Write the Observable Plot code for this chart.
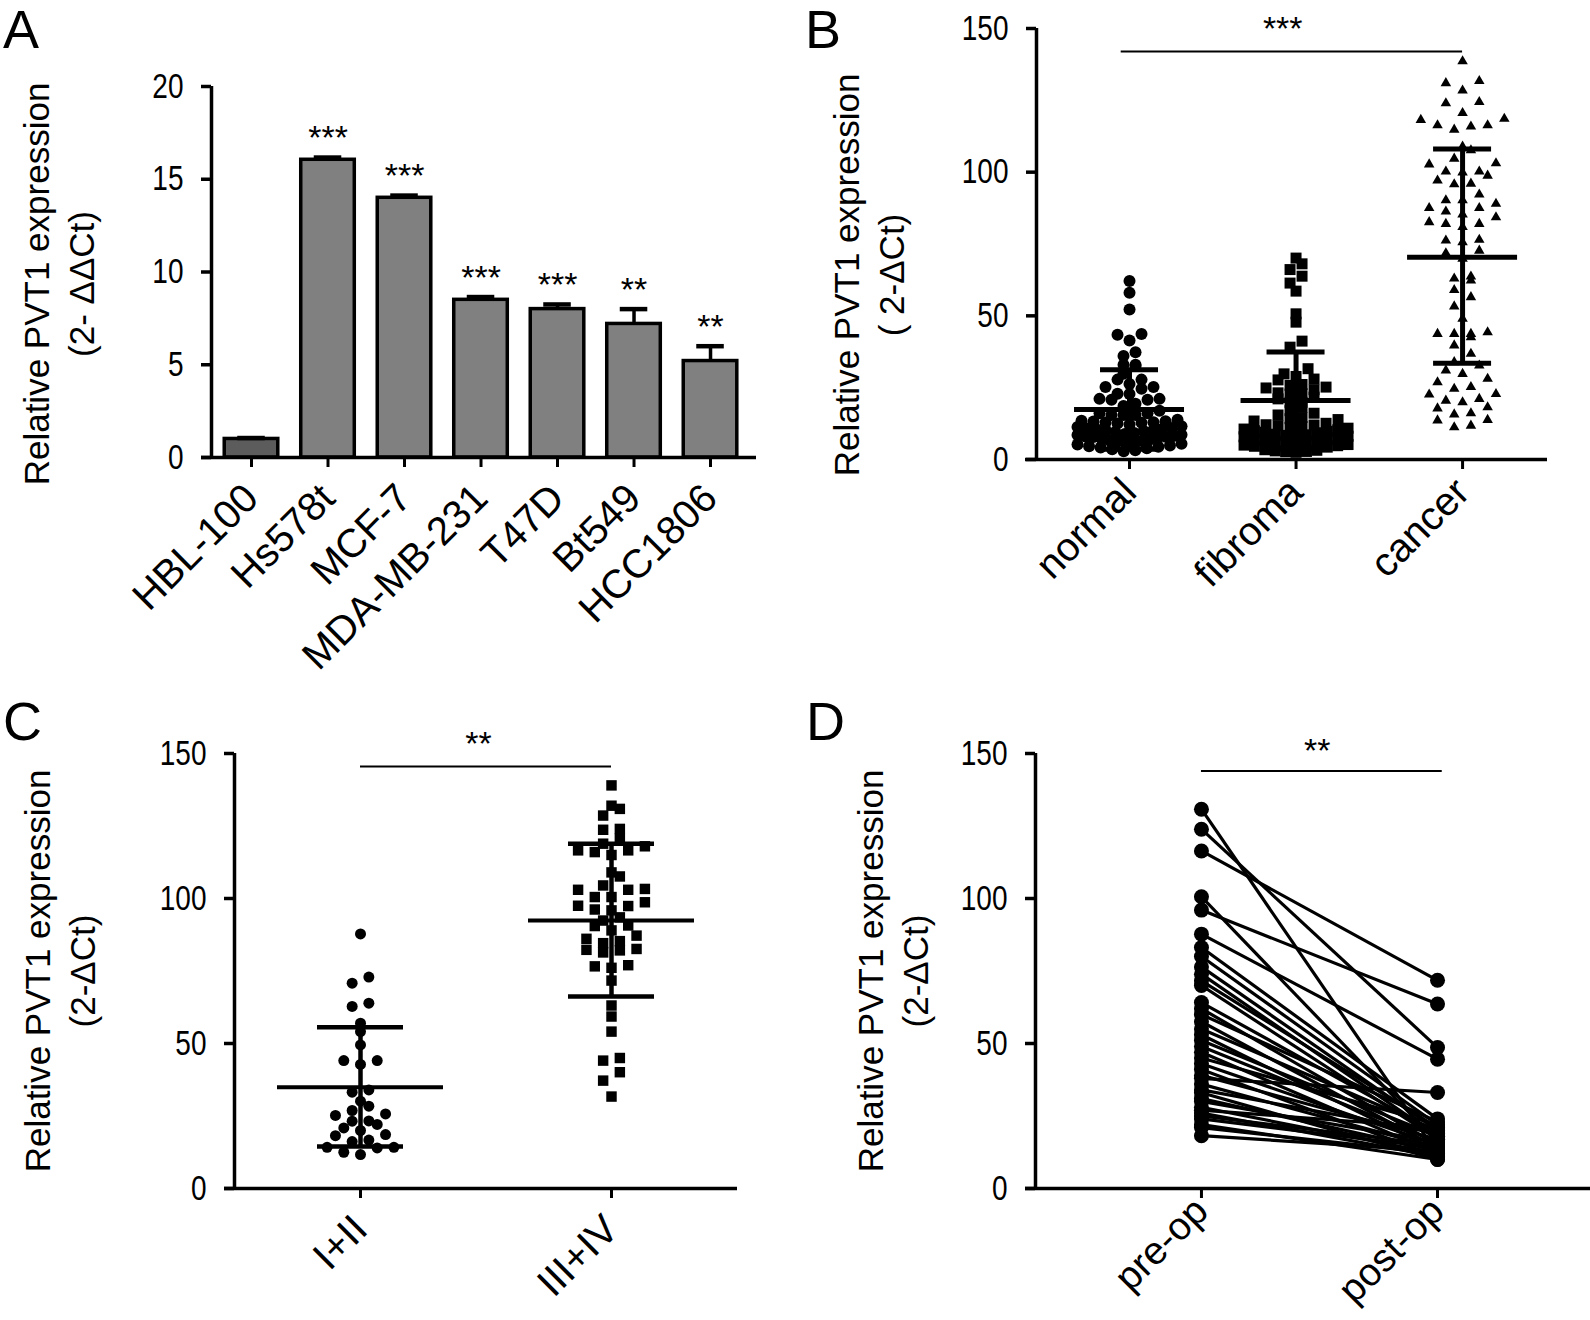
<!DOCTYPE html>
<html><head><meta charset="utf-8">
<script src="https://cdn.jsdelivr.net/npm/d3@7"></script>
<script src="https://cdn.jsdelivr.net/npm/@observablehq/plot@0.6"></script>
<style>
body{margin:0;background:#fff;}
#fig{position:relative;width:1590px;height:1320px;overflow:hidden;font-family:"Liberation Sans",Arial,sans-serif;background:#fff;}
.panel{position:absolute;}
.letter{position:absolute;font-size:54px;line-height:1.1;color:#000;font-family:"Liberation Sans",Arial,sans-serif;}
</style></head><body><div id="fig"></div>
<script>
// ---------- Panel A: cell lines ----------
const cellLines = ["HBL-100","Hs578t","MCF-7","MDA-MB-231","T47D","Bt549","HCC1806"];
const cellMeans = [1.0, 16.05, 14.0, 8.5, 8.0, 7.2, 5.2];
const cellErrors = [0.05, 0.12, 0.12, 0.15, 0.25, 0.8, 0.8];
const cellStars = ["", "***", "***", "***", "***", "**", "**"];
const cellTicks = [0, 5, 10, 15, 20];

// ---------- Panel B: tissues ----------
const tissueGroups = ["normal", "fibroma", "cancer"];
const normalValues = [62.1,58.0,52.2,43.4,43.7,41.4,37.3,36.0,33.0,33.0,32.5,29.8,27.8,27.8,26.3,25.2,25.2,24.6,22.9,22.8,21.1,21.1,20.8,20.8,18.6,19.4,16.1,15.5,15.5,15.5,16.1,17.0,
  13.2,12.8,13.5,12.5,13.0,12.2,13.8,12.9,13.3,10.8,10.2,11.0,10.5,9.9,11.3,10.1,10.7,11.6,9.6,8.2,7.8,8.5,7.5,8.9,7.2,8.0,8.6,7.9,9.2,6.3,5.9,6.6,5.5,6.9,6.1,5.2,6.4,4.6,4.2,4.9,3.9,4.4,3.6,2.9,3.2];
const fibromaValues = [70.1,68.1,66.1,63.8,61.4,58.6,50.7,47.8,41.2,39.1,31.6,29.8,27.7,28.0,28.9,26.1,25.8,25.2,24.9,24.3,22.9,22.8,23.2,21.1,19.9,19.9,21.7,18.2,16.1,17.0,15.5,14.6,14.2,
  13.4,12.6,13.9,12.1,11.8,11.2,11.5,10.9,12.0,10.3,9.8,10.0,9.5,10.6,9.3,8.6,8.1,8.4,7.9,8.8,7.6,8.2,6.9,6.4,6.7,6.1,7.1,5.9,6.5,5.2,4.8,5.0,4.6,5.4,4.3,3.4,3.0,2.7,2.5,3.2,2.8];
const cancerValues = [138.6,131.0,131.7,128.4,124.4,124.0,120.6,118.6,116.3,115.9,114.8,116.3,118.2,108.9,107.6,104.7,102.7,103.1,100.2,100.2,98.8,99.9,96.0,95.8,97.1,92.2,90.2,89.0,90.2,87.5,86.3,87.5,85.3,84.3,82.0,82.6,80.9,82.0,76.5,75.6,76.2,72.7,69.9,71.8,63.0,62.3,63.7,59.0,56.5,53.3,49.0,43.7,43.7,43.7,44.3,42.6,39.7,36.8,32.7,31.0,33.9,29.8,28.1,26.9,24.6,25.2,22.6,22.8,20.5,21.1,18.2,17.8,19.9,15.7,16.1,13.6,13.8,11.2,11.8];
const tissueMean = [17.4, 20.5, 70.4];
const tissueSdLow = [3.6, 3.6, 33.5];
const tissueSdHigh = [31.2, 37.4, 108.1];
const tissueSig = [{from: 0, to: 2, y: 142, label: "***"}];

// ---------- Panel C: stages ----------
const stageGroups = ["I+II", "III+IV"];
const stageEarly = [87.8,72.9,70.8,63.9,62.8,57.0,54.1,49.5,44.1,44.1,42.8,34.0,33.2,30.1,28.4,26.9,25.7,25.2,23.2,23.3,22.1,20.9,20.0,18.6,18.2,16.2,16.7,14.2,14.2,14.0,12.5,11.7];
const stageLate = [139,130.9,132.0,128.6,124,123.7,120.6,118.9,118,116.6,116,116.6,115,109,107.6,103,103,104.5,100.5,100.5,97.4,95.9,96.2,98.7,92.4,90.5,89.0,90.7,85.3,86.1,82.6,82.1,82.3,84.6,76.6,76.1,77.0,71.7,63.1,59.3,54.1,44.1,45.0,40.1,37.2,31.7,103.3,97.5,93.5,87.2,81.4];
const stageMean = [34.9, 92.4];
const stageSdLow = [14.5, 66.2];
const stageSdHigh = [55.6, 118.9];
const stageSig = [{from: 0, to: 1, y: 145.5, label: "**"}];

// ---------- Panel D: paired pre/post ----------
const timepoints = ["pre-op", "post-op"];
const preOp  = [130.8,123.9,116.4,100.6,96.0,87.7,83.1,80,76.4,73.9,71.6,70,64.1,62,60,57.5,55,53,51,49,47,45,43,41,39,38,36,34,33,31,30,28,27,26,25,24,22,21,18.2];
const postOp = [12,48.6,71.8,16,63.6,44.6,24,22,20,18,21,17,19,15,23,14,20,13,18,16,12,22,15,11,17,33.1,14,19,10,13,16,12,21,11,15,14,10,12,13];
const pairedSig = [{from: 0, to: 1, y: 144, label: "**"}];

const scatterTicks = [0, 50, 100, 150];

// ---------- helpers ----------
const FONT = "'Liberation Sans', Arial, Helvetica, sans-serif";
const fig = document.getElementById("fig");

// GraphPad-like column scatter layout: rows of near-equal values spread around the group centre
function swarm(values, gi, pxPerUnit, pxPerStep, rowPx, spacingPx, maxHalfPx) {
  const sorted = values.slice().sort((a, b) => a - b);
  const rows = [];
  let cur = [];
  for (const v of sorted) {
    if (cur.length && (v - cur[0]) * pxPerUnit > rowPx) { rows.push(cur); cur = []; }
    cur.push(v);
  }
  if (cur.length) rows.push(cur);
  const out = [];
  for (const row of rows) {
    const n = row.length;
    let s = spacingPx;
    if (n > 1 && (n - 1) * s / 2 > maxHalfPx) s = 2 * maxHalfPx / (n - 1);
    const slots = [];
    for (let k = 0; k < n; k++) slots.push((k - (n - 1) / 2) * s);
    slots.sort((a, b) => Math.abs(a) - Math.abs(b) || a - b);
    row.forEach((v, k) => out.push({x: gi + slots[k] / pxPerStep, y: v}));
  }
  return out;
}

// narrow the numeric tick labels horizontally (reference uses a condensed face)
function condenseTicks(svg, sx) {
  svg.querySelectorAll('g[aria-label="y-axis tick label"] text').forEach(t => {
    const tr = t.getAttribute("transform");
    if (tr) t.setAttribute("transform", tr + ` scale(${sx},1)`);
    else {
      const x = +t.getAttribute("x") || 0, y = +t.getAttribute("y") || 0;
      t.setAttribute("transform", `translate(${x},${y}) scale(${sx},1) translate(${-x},${-y})`);
    }
  });
}

function place(svg, left, top) {
  condenseTicks(svg, 0.8);
  const wrap = document.createElement("div");
  wrap.className = "panel";
  wrap.style.left = left + "px";
  wrap.style.top = top + "px";
  wrap.appendChild(svg);
  fig.appendChild(wrap);
}
function letter(t, left, top) {
  const d = document.createElement("div");
  d.className = "letter"; d.textContent = t;
  d.style.left = left + "px"; d.style.top = top + "px";
  fig.appendChild(d);
}
const baseStyle = {fontFamily: FONT, color: "#000", background: "transparent", overflow: "visible"};
const TICK_FS = 35, CAT_FS = 40, TITLE_FS = 35, STAR_FS = 34;

// ---------- Panel A ----------
{
  const W = 795, H = 700, mL = 211, mT = 86, mB = 243, mR = 39;
  const xd = [-0.523, 6.601];
  const step = (W - mL - mR) / (xd[1] - xd[0]);
  const cells = cellLines.map((c, i) => ({i, name: c, mean: cellMeans[i], err: cellErrors[i], star: cellStars[i]}));
  const svg = Plot.plot({
    width: W, height: H, marginLeft: mL, marginTop: mT, marginBottom: mB, marginRight: mR,
    x: {domain: xd, label: null}, y: {domain: [0, 20], label: null},
    style: baseStyle,
    marks: [
      Plot.rectY(cells, {x1: d => d.i - 0.35, x2: d => d.i + 0.35, y1: 0, y2: "mean",
        fill: d => d.i === 0 ? "#5c5c5c" : "#808080", stroke: "#000", strokeWidth: 3.5}),
      Plot.ruleX(cells, {x: "i", y1: "mean", y2: d => d.mean + d.err, strokeWidth: 3.5}),
      Plot.ruleY(cells, {y: d => d.mean + d.err, x1: d => d.i - 0.18, x2: d => d.i + 0.18, strokeWidth: 4.5}),
      Plot.text(cells, {x: "i", y: d => d.mean + d.err, text: "star", dy: -19, fontSize: STAR_FS}),
      Plot.ruleY([0], {x1: xd[0] - 10 / step, x2: xd[1], strokeWidth: 3.5}),
      Plot.ruleX([xd[0]], {y1: 0, y2: 20, strokeWidth: 3.5}),
      Plot.axisY({ticks: cellTicks, tickSize: 10, tickPadding: 18, strokeWidth: 3.5, fontSize: TICK_FS, label: null}),
      Plot.axisX({ticks: d3.range(cellLines.length), tickFormat: i => cellLines[i], tickSize: 10, tickPadding: 24,
        strokeWidth: 3, tickRotate: -45, fontSize: CAT_FS, label: null}),
      Plot.text(["Relative PVT1 expression\n(2- \u0394\u0394Ct)"], {text: d => d, frameAnchor: "middle", rotate: -90,
        dx: -427, dy: 12, fontSize: TITLE_FS, lineHeight: 1.3})
    ]
  });
  place(svg, 0, 0);
}

// ---------- Panel B ----------
{
  const W = 795, H = 700, mL = 241, mT = 28, mB = 241, mR = 43;
  const xd = [-0.5586, 2.51], yd = [0, 150];
  const step = (W - mL - mR) / (xd[1] - xd[0]);
  const ky = (H - mT - mB) / (yd[1] - yd[0]);
  const nrm = swarm(normalValues, 0, ky, step, 8, 12, 52);
  const fib = swarm(fibromaValues, 1, ky, step, 8, 12, 52);
  const can = swarm(cancerValues, 2, ky, step, 11, 16.7, 45);
  const stats = tissueGroups.map((g, i) => ({i, mean: tissueMean[i], lo: tissueSdLow[i], hi: tissueSdHigh[i]}));
  const svg = Plot.plot({
    width: W, height: H, marginLeft: mL, marginTop: mT, marginBottom: mB, marginRight: mR,
    x: {domain: xd, label: null}, y: {domain: yd, label: null},
    style: baseStyle,
    marks: [
      Plot.dot(nrm, {x: "x", y: "y", r: 6, fill: "#000", symbol: "circle"}),
      Plot.dot(fib, {x: "x", y: "y", r: 6.2, fill: "#000", symbol: "square"}),
      Plot.dot(can, {x: "x", y: "y", r: 3.9, fill: "#000", symbol: "triangle"}),
      Plot.ruleY(stats, {y: "mean", x1: d => d.i - 55 / step, x2: d => d.i + 55 / step, strokeWidth: 5}),
      Plot.ruleX(stats, {x: "i", y1: "lo", y2: "hi", strokeWidth: 5}),
      Plot.ruleY(stats, {y: "hi", x1: d => d.i - 29 / step, x2: d => d.i + 29 / step, strokeWidth: 5}),
      Plot.ruleY(stats, {y: "lo", x1: d => d.i - 29 / step, x2: d => d.i + 29 / step, strokeWidth: 5}),
      Plot.ruleY(tissueSig, {y: "y", x1: d => d.from - 0.05, x2: d => d.to, strokeWidth: 2}),
      Plot.text(tissueSig, {x: d => (d.from + d.to) / 2 - 0.08, y: "y", text: "label", dy: -22, fontSize: STAR_FS}),
      Plot.ruleY([0], {x1: xd[0] - 11 / step, x2: xd[1], strokeWidth: 3.5}),
      Plot.ruleX([xd[0]], {y1: 0, y2: 150, strokeWidth: 3.5}),
      Plot.axisY({ticks: scatterTicks, tickSize: 10, tickPadding: 18, strokeWidth: 3.5, fontSize: TICK_FS, label: null}),
      Plot.axisX({ticks: d3.range(tissueGroups.length), tickFormat: i => tissueGroups[i], tickSize: 10, tickPadding: 16,
        strokeWidth: 3, tickRotate: -45, fontSize: CAT_FS, label: null}),
      Plot.text(["Relative PVT1 expression\n( 2-\u0394Ct)"], {text: d => d, frameAnchor: "middle", rotate: -90,
        dx: -425, dy: 31, fontSize: TITLE_FS, lineHeight: 1.3})
    ]
  });
  place(svg, 795, 0);
}

// ---------- Panel C ----------
{
  const W = 795, H = 660, mL = 234, mT = 93, mB = 132, mR = 58;
  const xd = [-0.502, 1.502], yd = [0, 150];
  const step = (W - mL - mR) / (xd[1] - xd[0]);
  const ky = (H - mT - mB) / (yd[1] - yd[0]);
  const early = swarm(stageEarly, 0, ky, step, 8, 16.7, 55);
  const late = swarm(stageLate, 1, ky, step, 9, 16.7, 58);
  const stats = stageGroups.map((g, i) => ({i, mean: stageMean[i], lo: stageSdLow[i], hi: stageSdHigh[i]}));
  const svg = Plot.plot({
    width: W, height: H, marginLeft: mL, marginTop: mT, marginBottom: mB, marginRight: mR,
    x: {domain: xd, label: null}, y: {domain: yd, label: null},
    style: baseStyle,
    marks: [
      Plot.dot(early, {x: "x", y: "y", r: 5.5, fill: "#000", symbol: "circle"}),
      Plot.dot(late, {x: "x", y: "y", r: 5.9, fill: "#000", symbol: "square"}),
      Plot.ruleY(stats, {y: "mean", x1: d => d.i - 83 / step, x2: d => d.i + 83 / step, strokeWidth: 4}),
      Plot.ruleX(stats, {x: "i", y1: "lo", y2: "hi", strokeWidth: 4.5}),
      Plot.ruleY(stats, {y: "hi", x1: d => d.i - 43 / step, x2: d => d.i + 43 / step, strokeWidth: 4.5}),
      Plot.ruleY(stats, {y: "lo", x1: d => d.i - 43 / step, x2: d => d.i + 43 / step, strokeWidth: 4.5}),
      Plot.ruleY(stageSig, {y: "y", x1: "from", x2: "to", strokeWidth: 2}),
      Plot.text(stageSig, {x: d => (d.from + d.to) / 2 - 0.03, y: "y", text: "label", dy: -22, fontSize: STAR_FS}),
      Plot.ruleY([0], {x1: xd[0] - 10 / step, x2: xd[1], strokeWidth: 3.5}),
      Plot.ruleX([xd[0]], {y1: 0, y2: 150, strokeWidth: 3.5}),
      Plot.axisY({ticks: scatterTicks, tickSize: 10, tickPadding: 18, strokeWidth: 3.5, fontSize: TICK_FS, label: null}),
      Plot.axisX({ticks: d3.range(stageGroups.length), tickFormat: i => stageGroups[i], tickSize: 10, tickPadding: 24,
        strokeWidth: 3, tickRotate: -45, fontSize: CAT_FS, label: null}),
      Plot.text(["Relative PVT1 expression\n(2-\u0394Ct)"], {text: d => d, frameAnchor: "middle", rotate: -90,
        dx: -428, dy: 0, fontSize: TITLE_FS, lineHeight: 1.3})
    ]
  });
  place(svg, 0, 660);
}

// ---------- Panel D ----------
{
  const W = 795, H = 660, mL = 240, mT = 93, mB = 132, mR = 0;
  const xd = [-0.703, 1.648], yd = [0, 150];
  const step = (W - mL - mR) / (xd[1] - xd[0]);
  const pairs = preOp.map((p, k) => ({pre: p, post: postOp[k]}));
  const svg = Plot.plot({
    width: W, height: H, marginLeft: mL, marginTop: mT, marginBottom: mB, marginRight: mR,
    x: {domain: xd, label: null}, y: {domain: yd, label: null},
    style: baseStyle,
    marks: [
      Plot.link(pairs, {x1: () => 0, y1: "pre", x2: () => 1, y2: "post", strokeWidth: 3.2, stroke: "#000"}),
      Plot.dot(pairs, {x: () => 0, y: "pre", r: 7.5, fill: "#000"}),
      Plot.dot(pairs, {x: () => 1, y: "post", r: 7.5, fill: "#000"}),
      Plot.ruleY(pairedSig, {y: "y", x1: "from", x2: d => d.to + 0.02, strokeWidth: 2}),
      Plot.text(pairedSig, {x: d => (d.from + d.to) / 2 - 0.01, y: "y", text: "label", dy: -20, fontSize: STAR_FS}),
      Plot.ruleY([0], {x1: xd[0] - 10 / step, x2: xd[1], strokeWidth: 3.5}),
      Plot.ruleX([xd[0]], {y1: 0, y2: 150, strokeWidth: 3.5}),
      Plot.axisY({ticks: scatterTicks, tickSize: 10, tickPadding: 18, strokeWidth: 3.5, fontSize: TICK_FS, label: null}),
      Plot.axisX({ticks: d3.range(timepoints.length), tickFormat: i => timepoints[i], tickSize: 10, tickPadding: 6,
        strokeWidth: 3, tickRotate: -45, fontSize: 39, label: null}),
      Plot.text(["Relative PVT1 expression\n(2-\u0394Ct)"], {text: d => d, frameAnchor: "middle", rotate: -90,
        dx: -422, dy: 0, fontSize: TITLE_FS, lineHeight: 1.3})
    ]
  });
  place(svg, 795, 660);
}

letter("A", 3, 0);
letter("B", 805, 0);
letter("C", 3, 692);
letter("D", 806, 692);
</script>
</body></html>
